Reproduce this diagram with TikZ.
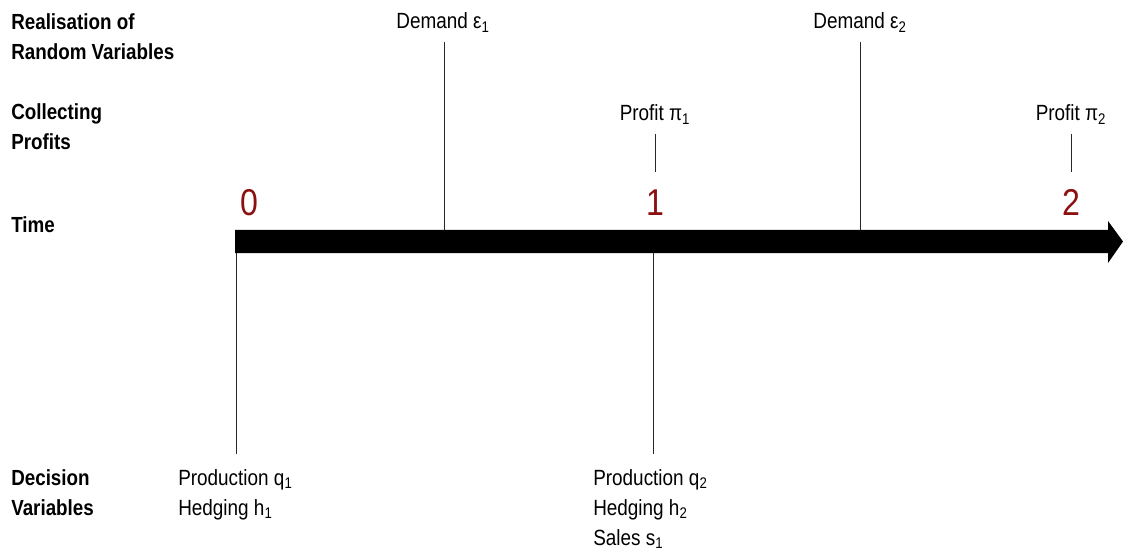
\documentclass[tikz,border=0pt]{standalone}
\usepackage{fontspec}
\setmainfont{Liberation Sans}[FakeStretch=0.86]
\usepackage{xcolor}
\usepackage{tikz}
\usetikzlibrary{positioning}
\definecolor{timered}{RGB}{139,16,16}

\begin{document}
\begin{tikzpicture}[x=0.75pt, y=-0.75pt,
    rowlabel/.style={anchor=base west, align=left, inner sep=0pt, font=\fontsize{16.4}{22.5}\selectfont\bfseries},
    evlabel/.style={anchor=base, inner sep=0pt, font=\fontsize{16.5}{22.5}\selectfont},
    declabel/.style={anchor=base west, align=left, inner sep=0pt, font=\fontsize{16.5}{22.5}\selectfont},
    timenum/.style={anchor=base, inner sep=0pt, text=timered, font=\fontsize{28}{30}\selectfont},
    tick/.style={draw=black!85, line width=0.75pt}]
  \useasboundingbox (0,0) rectangle (1123,552);

  % row labels on the left (placed by their last line)
  \node[rowlabel] (rrand) at (11,60) {Realisation of\\Random Variables};
  \node[rowlabel] (rprof) at (11,150) {Collecting\\Profits};
  \node[rowlabel] (rtime) at (11,233) {Time};
  \node[rowlabel] (rdec) at (11,515) {Decision\\Variables};

  % time axis
  \fill (235,230) -- (1108,230) -- (1108,221) -- (1123,241.5) -- (1108,263) -- (1108,253) -- (235,253) -- cycle;
  \node[timenum] (num0) at (249,215) {0};
  \node[timenum] (num1) at (655,215) {1};
  \node[timenum] (num2) at (1071,215) {2};

  % random variables
  \node[evlabel] (dem1) at (443,29) {Demand ε\textsubscript{1}};
  \node[evlabel] (dem2) at (860,29) {Demand ε\textsubscript{2}};
  \coordinate (dem1top) at (444,42);
  \coordinate (dem1bot) at (444,230);
  \coordinate (dem2top) at (860,42);
  \coordinate (dem2bot) at (860,230);
  \draw[tick] (dem1top) -- (dem1bot);
  \draw[tick] (dem2top) -- (dem2bot);

  % profits
  \node[evlabel] (prof1) at (655,121) {Profit π\textsubscript{1}};
  \node[evlabel] (prof2) at (1071,121) {Profit π\textsubscript{2}};
  \coordinate (prof1top) at (655,134);
  \coordinate (prof1bot) at (655,172);
  \coordinate (prof2top) at (1071,134);
  \coordinate (prof2bot) at (1071,172);
  \draw[tick] (prof1top) -- (prof1bot);
  \draw[tick] (prof2top) -- (prof2bot);

  % decisions (placed by their last line)
  \node[declabel] (dec0) at (178,515) {Production q\textsubscript{1}\\Hedging h\textsubscript{1}};
  \node[declabel] (dec1) at (593,545) {Production q\textsubscript{2}\\Hedging h\textsubscript{2}\\Sales s\textsubscript{1}};
  \coordinate (dec0top) at (236,253);
  \coordinate (dec0bot) at (236,454);
  \coordinate (dec1top) at (653,253);
  \coordinate (dec1bot) at (653,454);
  \draw[tick] (dec0top) -- (dec0bot);
  \draw[tick] (dec1top) -- (dec1bot);
\end{tikzpicture}
\end{document}
